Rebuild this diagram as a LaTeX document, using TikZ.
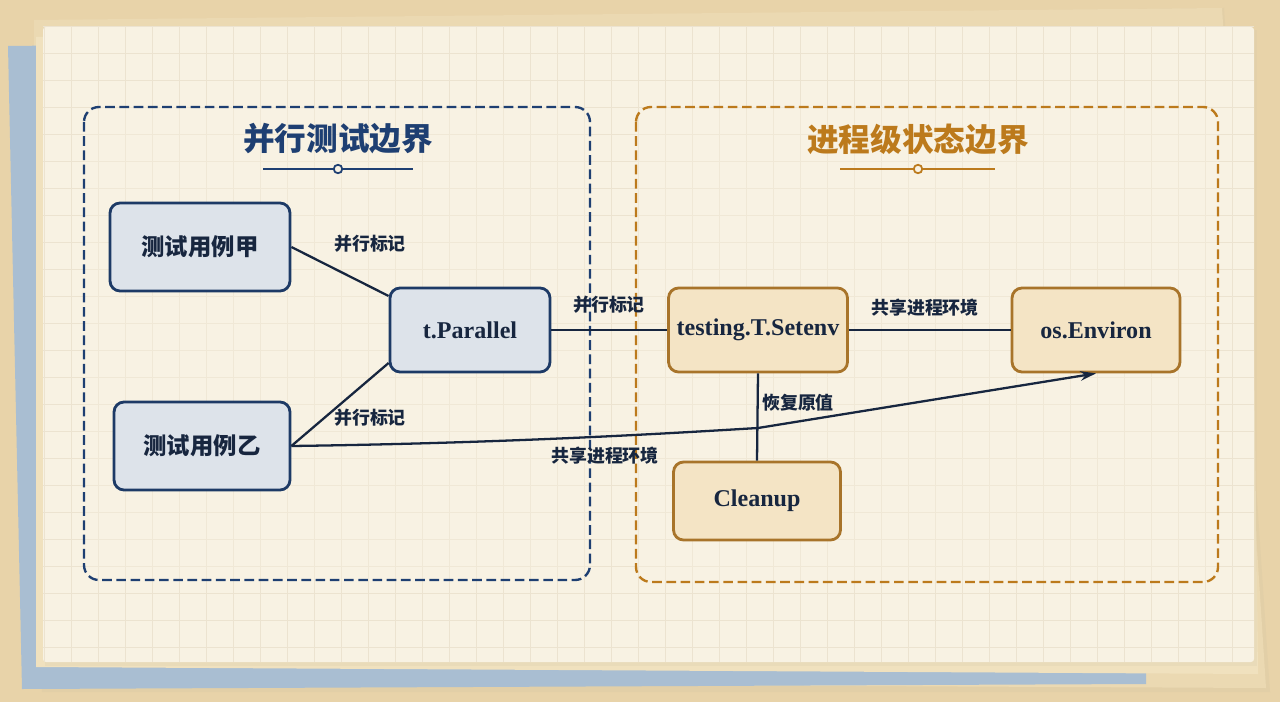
\documentclass[tikz,border=0pt]{standalone}
\usepackage{fontspec}
\setmainfont{Liberation Serif}
\newfontfamily\cjk{Noto Sans CJK SC}
\usetikzlibrary{arrows.meta,calc}
\definecolor{deskbg}{HTML}{E8D3A9}
\definecolor{sheettop}{HTML}{F8F2E3}
\definecolor{sheetmid}{HTML}{F0E1BE}
\definecolor{sheetback}{HTML}{EBD9B2}
\definecolor{sheetblue}{HTML}{A9BED2}
\definecolor{gridc}{HTML}{ECE3D0}
\definecolor{navy}{HTML}{1E3F72}
\definecolor{ochre}{HTML}{BC7A1C}
\definecolor{bluefill}{HTML}{DDE3EA}
\definecolor{blueedge}{HTML}{1D3A66}
\definecolor{tanfill}{HTML}{F4E4C5}
\definecolor{tanedge}{HTML}{A8742A}
\definecolor{ink}{HTML}{17263F}
\tikzset{
  bluenode/.style={draw=blueedge, line width=1.6pt, fill=bluefill, rounded corners=0.2cm, text=ink, align=center},
  tannode/.style={draw=tanedge, line width=1.6pt, fill=tanfill, rounded corners=0.2cm, text=ink, align=center},
  cjklabel/.style={text=ink, font=\cjk\bfseries\fontsize{10.2pt}{12pt}\selectfont, inner sep=1pt},
  conn/.style={draw=ink, line width=1.3pt},
  bound/.style={line width=1.35pt, dash pattern=on 5.5pt off 2.6pt, rounded corners=0.3cm},
  cjknode/.style={font=\cjk\bfseries\fontsize{13.3pt}{15pt}\selectfont},
  sernode/.style={font=\bfseries\fontsize{13.7pt}{15pt}\selectfont},
}
\begin{document}
\begin{tikzpicture}[x=0.02cm,y=-0.02cm]
\useasboundingbox (0,0) rectangle (1280,702);
% desk
\fill[deskbg] (0,0) rectangle (1280,702);
% back sheets
\fill[sheetback!92!black, opacity=0.35] (36,22) -- (1224,8) -- (1270,692) -- (42,692) -- cycle;
\fill[sheetback] (34,20) -- (1222,8) -- (1266,688) -- (38,682) -- cycle;
\fill[sheetblue] (8,46) -- (600,40) -- (1148,40) -- (1146,684) -- (22,689) -- cycle;
\fill[sheetmid] (36,37) -- (1250,30) -- (1258,674) -- (36,667) -- cycle;
\fill[sheetmid!90!black, opacity=0.25] (45,30) rectangle (1257,666);
\fill[sheettop, rounded corners=0.06cm] (43,27) rectangle (1254,662);
% grid
\begin{scope}
\clip (43,27) rectangle (1254,662);
\foreach \gx in {44,71,...,1254} \draw[gridc, line width=0.5pt] (\gx,27) -- (\gx,662);
\foreach \gy in {26,53,...,662} \draw[gridc, line width=0.5pt] (43,\gy) -- (1254,\gy);
\end{scope}
% boundaries
\draw[bound, draw=navy, fill=sheettop, fill opacity=0.35] (84,107) rectangle (590,580);
\draw[bound, draw=ochre, fill=sheettop, fill opacity=0.35] (636,107) rectangle (1218,582);
% titles
\node[text=navy, font=\cjk\bfseries\fontsize{18pt}{20pt}\selectfont] (t1) at (338,139) {并行测试边界};
\node[text=ochre, font=\cjk\bfseries\fontsize{18pt}{20pt}\selectfont] (t2) at (918,139) {进程级状态边界};
\node[draw=navy, line width=1pt, circle, inner sep=0pt, minimum size=0.17cm] (o1) at (338,169) {};
\draw[navy, line width=1pt] (263,169) -- (o1.west) (o1.east) -- (413,169);
\node[draw=ochre, line width=1pt, circle, inner sep=0pt, minimum size=0.17cm] (o2) at (918,169) {};
\draw[ochre, line width=1pt] (840,169) -- (o2.west) (o2.east) -- (995,169);
% nodes
\node[bluenode, cjknode, minimum width=3.6cm, minimum height=1.76cm] (a) at (200,247) {测试用例甲};
\node[bluenode, cjknode, minimum width=3.52cm, minimum height=1.76cm] (b) at (202,446) {测试用例乙};
\node[bluenode, sernode, minimum width=3.2cm, minimum height=1.68cm] (p) at (470,330) {t.Parallel};
\node[tannode, sernode, minimum width=3.58cm, minimum height=1.68cm] (s) at (758,330) {testing.T.Setenv};
\node[tannode, sernode, minimum width=3.36cm, minimum height=1.68cm] (e) at (1096,330) {os.Environ};
\node[tannode, sernode, minimum width=3.34cm, minimum height=1.56cm] (c) at (757,501) {Cleanup};
% connectors
\draw[conn] (a.east) -- ($(p.west)+(0,-34)$);
\draw[conn] (b.east) -- ($(p.west)+(0,33)$);
\draw[conn] (p.east) -- (s.west);
\draw[conn] (s.east) -- (e.west);
\draw[conn] (s.south) -- (c.north);
\coordinate (bend) at (758,428);
\draw[conn, -{Stealth[length=9pt,width=5.5pt]}] (b.east) .. controls (520,443) and (690,432) .. (bend) -- (e.south);
% labels
\node[cjklabel] (l1) at (370,244) {并行标记};
\node[cjklabel] (l2) at (370,418) {并行标记};
\node[cjklabel] (l3) at (609,305) {并行标记};
\node[cjklabel] (l4) at (925,308) {共享进程环境};
\node[cjklabel] (l5) at (798,403) {恢复原值};
\node[cjklabel] (l6) at (605,456) {共享进程环境};
\end{tikzpicture}
\end{document}
